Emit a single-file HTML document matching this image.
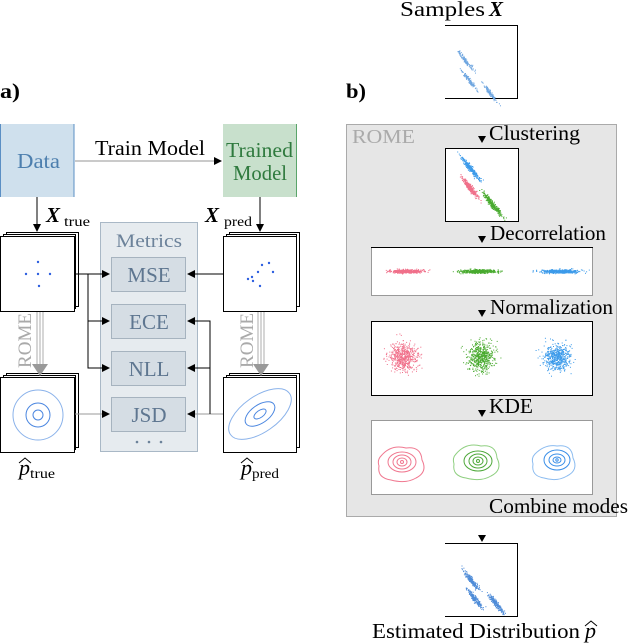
<!DOCTYPE html>
<html><head><meta charset="utf-8"><style>
html,body{margin:0;padding:0;background:#fff;}
svg{display:block;}
text{font-family:"Liberation Serif","DejaVu Serif",serif;}
</style></head><body>
<svg id="s" width="630" height="644" viewBox="0 0 630 644" xmlns="http://www.w3.org/2000/svg" font-family="Liberation Serif, serif">
<defs>
<marker id="ah" markerWidth="8" markerHeight="8" refX="7" refY="4" orient="auto" markerUnits="userSpaceOnUse"><path d="M0,0 L8,4 L0,8 Z" fill="#000"/></marker>
</defs>
<text x="0" y="98" font-size="21" font-weight="bold" textLength="20" lengthAdjust="spacingAndGlyphs">a)</text>
<text x="346" y="98" font-size="21" font-weight="bold" textLength="20" lengthAdjust="spacingAndGlyphs">b)</text>

<rect x="0" y="124" width="74" height="73" fill="#cfe0ed"/>
<line x1="0.5" y1="124" x2="0.5" y2="197" stroke="#5b8fc4"/>
<line x1="74" y1="124" x2="74" y2="197" stroke="#5b8fc4"/>
<text x="17" y="168" font-size="21" fill="#4d7fae" textLength="43" lengthAdjust="spacingAndGlyphs">Data</text>
<rect x="223" y="124" width="74" height="73" fill="#c8e0cc"/>
<line x1="296.5" y1="124" x2="296.5" y2="197" stroke="#5aa56a"/>
<text x="226" y="157" font-size="21" fill="#2f7a3e" textLength="67" lengthAdjust="spacingAndGlyphs">Trained</text>
<text x="233" y="180" font-size="21" fill="#2f7a3e" textLength="54" lengthAdjust="spacingAndGlyphs">Model</text>
<line x1="75" y1="161" x2="221" y2="161" stroke="#aaa" stroke-width="1.2" marker-end="url(#ah)"/>
<text x="95" y="155" font-size="21" textLength="110" lengthAdjust="spacingAndGlyphs">Train Model</text>

<line x1="37" y1="197" x2="37" y2="231" stroke="#000" marker-end="url(#ah)"/>
<line x1="260" y1="197" x2="260" y2="231" stroke="#000" marker-end="url(#ah)"/>
<text x="46" y="222" font-size="21" font-weight="bold" font-style="italic">X</text><text x="64" y="226" font-size="14" textLength="26" lengthAdjust="spacingAndGlyphs">true</text>
<text x="205" y="222" font-size="21" font-weight="bold" font-style="italic">X</text><text x="224" y="226" font-size="14" textLength="28" lengthAdjust="spacingAndGlyphs">pred</text>

<g stroke="#000" fill="#fff" stroke-width="1">
<rect x="6.5" y="232.5" width="72" height="74"/><rect x="3.5" y="234.5" width="72" height="74"/><rect x="0.5" y="236.5" width="74" height="75"/>
<rect x="229.5" y="232.5" width="70" height="74"/><rect x="226.5" y="234.5" width="70" height="74"/><rect x="223.5" y="236.5" width="73" height="75"/>
<rect x="6.5" y="373.5" width="72" height="74"/><rect x="3.5" y="375.5" width="72" height="74"/><rect x="0.5" y="377.5" width="74" height="75"/>
<rect x="229.5" y="373.5" width="70" height="74"/><rect x="226.5" y="375.5" width="70" height="74"/><rect x="223.5" y="377.5" width="73" height="75"/>
</g>
<g fill="#2d5fe0">
<circle cx="38" cy="262" r="1.2"/><circle cx="26" cy="274" r="1.2"/><circle cx="38" cy="274" r="1.2"/><circle cx="50" cy="274" r="1.2"/><circle cx="39" cy="286" r="1.2"/>
<circle cx="269" cy="263" r="1.2"/><circle cx="262" cy="265" r="1.2"/><circle cx="273" cy="272" r="1.2"/><circle cx="258" cy="272" r="1.2"/><circle cx="252" cy="277" r="1.2"/><circle cx="248" cy="279" r="1.2"/><circle cx="253" cy="281" r="1.2"/><circle cx="260" cy="286" r="1.2"/>
</g>
<g fill="none" stroke="#4a86e0">
<circle cx="38" cy="415" r="5"/><circle cx="38" cy="415" r="12"/><circle cx="38" cy="415" r="25" stroke="#8ab2ea"/>
<g transform="rotate(-35 260 414)"><ellipse cx="260" cy="414" rx="7" ry="3.5"/><ellipse cx="260" cy="414" rx="17" ry="9"/><ellipse cx="260" cy="414" rx="36" ry="18" stroke="#8ab2ea"/></g>
</g>
<g stroke="#bbb" stroke-width="1.2"><line x1="37" y1="312" x2="37" y2="368"/><line x1="40" y1="312" x2="40" y2="368"/><line x1="43" y1="312" x2="43" y2="368"/>
<line x1="258" y1="312" x2="258" y2="368"/><line x1="261" y1="312" x2="261" y2="368"/><line x1="264" y1="312" x2="264" y2="368"/></g>
<path d="M32,364 L48,364 L40,376 Z" fill="#999"/><path d="M253,364 L269,364 L261,376 Z" fill="#999"/>
<text transform="translate(31,368) rotate(-90)" font-size="19" fill="#aaa" textLength="55" lengthAdjust="spacingAndGlyphs">ROME</text>
<text transform="translate(253,368) rotate(-90)" font-size="19" fill="#aaa" textLength="55" lengthAdjust="spacingAndGlyphs">ROME</text>
<text x="19" y="475" font-size="22" font-style="italic">p</text><path d="M19,463 L25,458 L31,463" fill="none" stroke="#000"/><text x="30" y="478" font-size="14" textLength="25" lengthAdjust="spacingAndGlyphs">true</text>
<text x="241" y="475" font-size="22" font-style="italic">p</text><path d="M241,463 L247,458 L253,463" fill="none" stroke="#000"/><text x="252" y="478" font-size="14" textLength="27" lengthAdjust="spacingAndGlyphs">pred</text>

<rect x="100.5" y="222.5" width="97" height="229" fill="#e6ebef" stroke="#a9b8c6"/>
<text x="116" y="247" font-size="19" fill="#6c829a" textLength="66" lengthAdjust="spacingAndGlyphs">Metrics</text>
<g fill="#d5dde4" stroke="#a6b3bf">
<rect x="111.5" y="257.5" width="74" height="34"/><rect x="111.5" y="304.5" width="74" height="34"/><rect x="111.5" y="351.5" width="74" height="34"/><rect x="111.5" y="397.5" width="74" height="34"/></g>
<g font-size="21" fill="#5e7690" text-anchor="middle">
<text x="149" y="282">MSE</text><text x="149" y="329">ECE</text><text x="149" y="376">NLL</text><text x="149" y="422">JSD</text></g>
<g fill="#6c829a"><circle cx="137" cy="442" r="1.3"/><circle cx="149" cy="442" r="1.3"/><circle cx="161" cy="442" r="1.3"/></g>
<g stroke="#000" fill="none">
<line x1="75" y1="274" x2="109" y2="274" marker-end="url(#ah)"/>
<polyline points="88,274 88,321 109,321" marker-end="url(#ah)"/>
<polyline points="88,321 88,368 109,368" marker-end="url(#ah)"/>
<line x1="75" y1="414" x2="109" y2="414" stroke="#999" marker-end="url(#ah)"/>
<line x1="223" y1="274" x2="188" y2="274" marker-end="url(#ah)"/>
<line x1="223" y1="414" x2="188" y2="414" stroke="#999" marker-end="url(#ah)"/>
<polyline points="210,414 210,321 188,321" marker-end="url(#ah)"/>
<line x1="210" y1="368" x2="188" y2="368" marker-end="url(#ah)"/>
</g>

<text x="400" y="16" font-size="21" textLength="85" lengthAdjust="spacingAndGlyphs">Samples</text><text x="489" y="16" font-size="21" font-weight="bold" font-style="italic">X</text>
<polyline points="445,25.5 517.5,25.5 517.5,98.5 445,98.5" fill="none" stroke="#000"/>
<rect x="346.5" y="124.5" width="270" height="392" fill="#e6e6e6" stroke="#aaa"/>
<text x="352" y="143" font-size="20" fill="#aaa" textLength="63" lengthAdjust="spacingAndGlyphs">ROME</text>
<g font-size="21">
<text x="489" y="140" textLength="91" lengthAdjust="spacingAndGlyphs">Clustering</text>
<text x="490" y="240" textLength="116" lengthAdjust="spacingAndGlyphs">Decorrelation</text>
<text x="490" y="314" textLength="123" lengthAdjust="spacingAndGlyphs">Normalization</text>
<text x="489" y="413" textLength="44" lengthAdjust="spacingAndGlyphs">KDE</text>
<text x="489" y="513" textLength="139" lengthAdjust="spacingAndGlyphs">Combine modes</text></g>
<g fill="#000"><path d="M478,136 L486,136 L482,143 Z"/><path d="M478,236 L486,236 L482,243 Z"/><path d="M478,310 L486,310 L482,317 Z"/><path d="M478,410 L486,410 L482,417 Z"/><path d="M478,535 L486,535 L482,542 Z"/></g>
<rect x="445.5" y="148.5" width="73" height="73" fill="#fff" stroke="#000"/>
<rect x="371.5" y="247.5" width="221" height="48" fill="#fff" stroke="#999"/><line x1="371" y1="247.5" x2="593" y2="247.5" stroke="#000"/>
<rect x="371.5" y="321.5" width="221" height="74" fill="#fff" stroke="#000"/>
<rect x="371.5" y="420.5" width="221" height="74" fill="#fff" stroke="#999"/>
<polyline points="445,543.5 517.5,543.5 517.5,616.5 445,616.5" fill="none" stroke="#000"/>
<text x="372" y="638" font-size="21" textLength="208" lengthAdjust="spacingAndGlyphs">Estimated Distribution</text>
<text x="585" y="638" font-size="22" font-style="italic">p</text><path d="M585,626 L591,621 L597,626" fill="none" stroke="#000"/>
<g id="dots"></g>
<g fill="none" stroke-width="1">
<g stroke="#f07890"><path d="M381,456 q10,-12 25,-8 q15,-2 16,12 q6,12 -6,18 q-10,6 -25,2 q-14,-2 -12,-14 q-2,-6 2,-10z"/><ellipse cx="402" cy="462" rx="14" ry="10"/><ellipse cx="402" cy="462" rx="9" ry="7"/><ellipse cx="402" cy="462" rx="5" ry="4"/><circle cx="402" cy="462" r="1.5"/></g>
<g stroke="#4ea83a"><path d="M456,454 q10,-12 25,-8 q15,-2 16,12 q6,12 -6,18 q-10,6 -25,2 q-14,-2 -12,-14 q-2,-6 2,-10z" stroke="#8fcf80"/><ellipse cx="478" cy="461" rx="14" ry="10"/><ellipse cx="478" cy="461" rx="9" ry="7"/><ellipse cx="478" cy="461" rx="5" ry="4"/><circle cx="478" cy="461" r="1.5"/></g>
<g stroke="#3a8fe8"><path d="M535,454 q10,-10 22,-8 q15,-2 16,12 q6,12 -6,18 q-10,6 -23,2 q-13,-2 -11,-14 q-2,-6 2,-10z" stroke="#8cbcf0"/><ellipse cx="557" cy="460" rx="13" ry="10"/><ellipse cx="557" cy="460" rx="8" ry="6"/><ellipse cx="557" cy="460" rx="4" ry="3"/><circle cx="557" cy="460" r="1.2"/></g>
</g>
</svg>
<script>
(function(){
var s=7;function r(){s=(s*16807)%2147483647;return s/2147483647;}
function n(){var u=0;for(var i=0;i<6;i++)u+=r();return u-3;}
var g=document.getElementById('dots'),h="";
function cloud(cx,cy,sx,sy,rot,col,N,sz){var c=Math.cos(rot),si=Math.sin(rot);
for(var i=0;i<N;i++){var a=n()*sx/1.4,b=n()*sy/1.4;var x=cx+a*c-b*si,y=cy+a*si+b*c;
h+='<rect x="'+x.toFixed(1)+'" y="'+y.toFixed(1)+'" width="'+sz+'" height="'+sz+'" fill="'+col+'"/>';}}
var d=Math.PI/4*1.15;
cloud(465,60,12,1.5,d,"#6fa6e0",120,1);cloud(469,80,12,1.5,d,"#6fa6e0",120,1);cloud(490,93,11,1.5,d,"#6fa6e0",120,1);
cloud(470,168,14,2.2,d,"#3c9bea",300,1);cloud(470,188,12,2.2,d,"#f0708a",300,1);cloud(492,204,14,2.2,d,"#4aab30",300,1);
cloud(407,271,16,1.8,0,"#f0708a",450,1);cloud(479,271,19,1.8,0,"#4aab30",450,1);cloud(560,271,19,1.8,0,"#3c9bea",450,1);
cloud(403,357,14,14,0,"#f0708a",550,1);cloud(481,357,14,14,0,"#4aab30",550,1);cloud(557,357,13,13,0,"#3c9bea",550,1);
cloud(471,580,11,2.2,d,"#4f8cd8",200,1);cloud(474,598,11,2.2,d,"#4f8cd8",200,1);cloud(496,604,11,2.2,d,"#4f8cd8",200,1);
g.innerHTML=h;})();
</script>
</body></html>
